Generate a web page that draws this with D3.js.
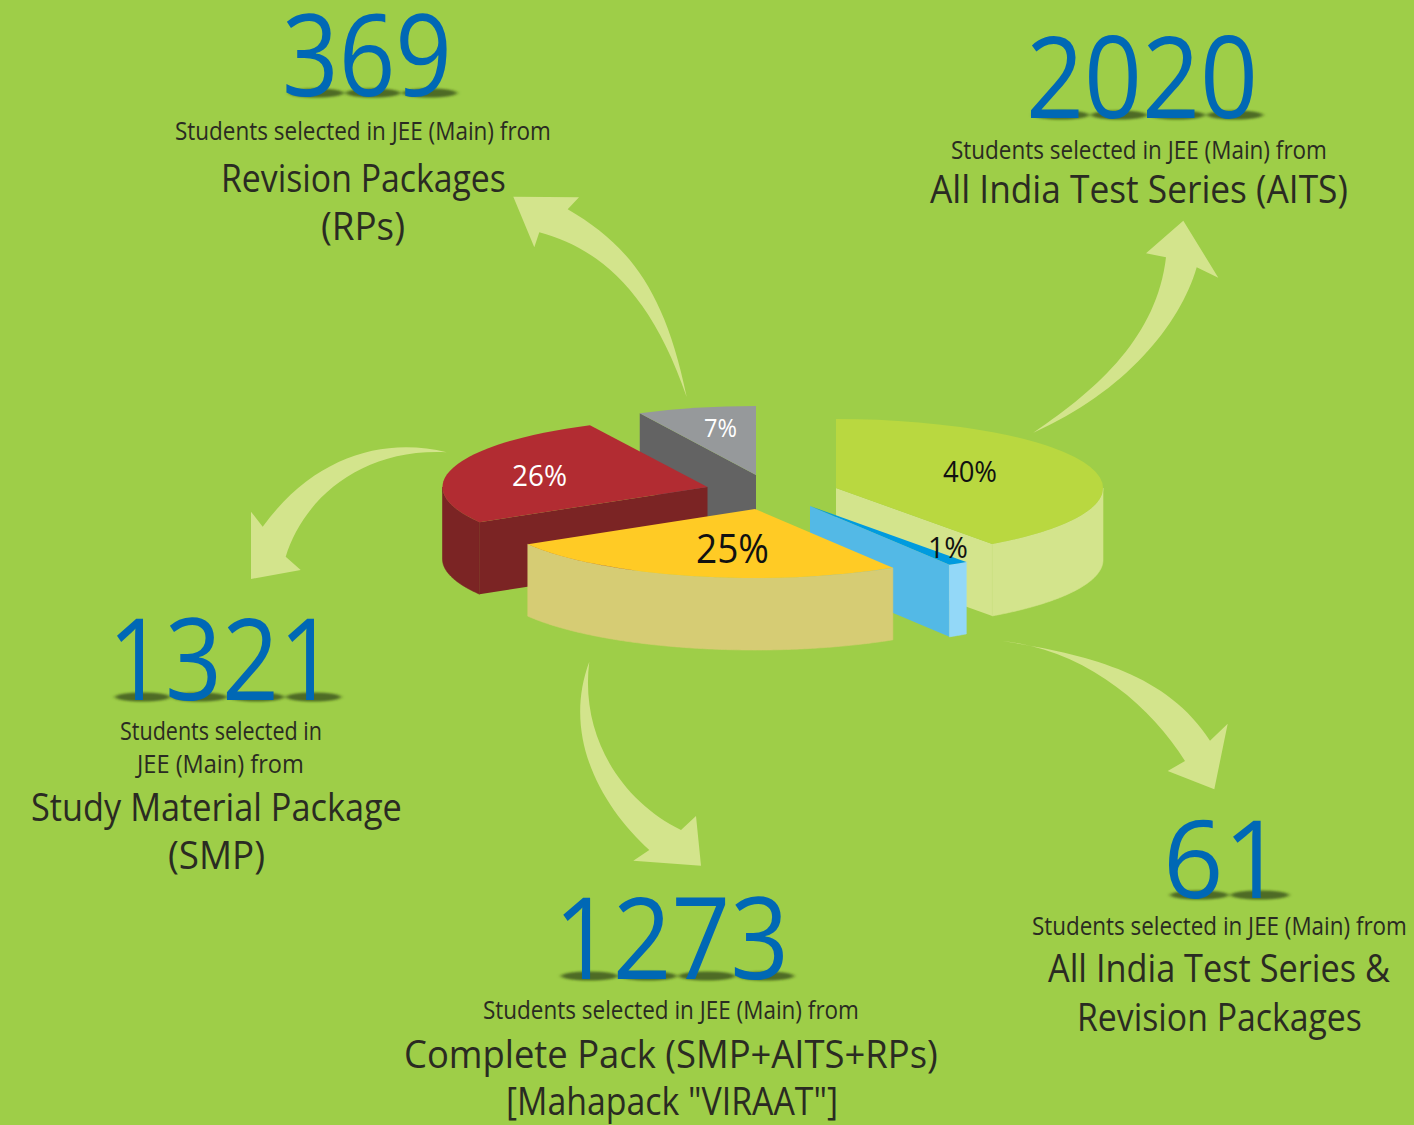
<!DOCTYPE html>
<html>
<head>
<meta charset="utf-8">
<title>JEE (Main) selections</title>
<script src="https://d3js.org/d3.v7.min.js"></script>
<style>
  html, body { margin: 0; padding: 0; background: #9ece48; }
  svg { display: block; }
  text { font-family: "Open Sans", sans-serif; }
</style>
</head>
<body>
<div id="chart"></div>
<script>
// students selected, in pie order (clockwise from 12 o'clock)
var packages = ["AITS", "AITS + RPs", "Complete Pack", "SMP", "RPs"];
var students = [2020, 61, 1273, 1321, 369];

var caption_lines = [
    ["Students selected in JEE (Main) from", "All India Test Series (AITS)"],
    ["Students selected in JEE (Main) from", "All India Test Series &", "Revision Packages"],
    ["Students selected in JEE (Main) from", "Complete Pack (SMP+AITS+RPs)", "[Mahapack \"VIRAAT\"]"],
    ["Students selected in", "JEE (Main) from", "Study Material Package", "(SMP)"],
    ["Students selected in JEE (Main) from", "Revision Packages", "(RPs)"]
];

function draw_chart() {
    const WIDTH = 1414;
    const HEIGHT = 1125;
    const RY = 69;
    const DEPTH = 72;
    const ARROW = "#d3e48c";
    const BLUE = "#0068b5";
    const INK = "#2a2b22";

    // one entry per slice, same order as students
    const SLICE_STYLE = [
        { cx: 836, cy: 488, rx: 267, top: "#b9d840", cut: "#d3e48c", side: "#d3e48c" },
        { cx: 810, cy: 506, rx: 267, top: "#009bdf", cut: "#53b9e6", side: "#93d8f8" },
        { cx: 755, cy: 509, rx: 264, top: "#ffcb25", cut: "#d6cc74", side: "#d6cc74" },
        { cx: 707.5, cy: 487, rx: 265, top: "#b22c32", cut: "#7b2424", side: "#7b2424" },
        { cx: 756, cy: 475, rx: 262, top: "#96999b", cut: "#636363", side: "#636363" }
    ];
    const PAINT_ORDER = [4, 3, 0, 1, 2];

    // x0, x1, baseline, font size of the percent labels
    const PERCENT_POS = [
        { x0: 943, x1: 997, y: 482, size: 30, fill: "#111" },
        { x0: 928, x1: 968, y: 558, size: 30, fill: "#111" },
        { x0: 696, x1: 769, y: 563, size: 40, fill: "#111" },
        { x0: 512, x1: 567, y: 486, size: 30, fill: "#fff" },
        { x0: 704, x1: 737, y: 437, size: 26, fill: "#fff" }
    ];

    // big number then caption lines
    const NUMBER_POS = [
        { x0: 1026, x1: 1258, y: 118 },
        { x0: 1163, x1: 1284, y: 898 },
        { x0: 554, x1: 789, y: 979 },
        { x0: 108, x1: 336, y: 700 },
        { x0: 282, x1: 452, y: 96 }
    ];
    const CAPTION_POS = [
        [[951, 1327, 159, 26], [930, 1348, 203, 38]],
        [[1032, 1407, 935, 26], [1048, 1390, 982, 38], [1077, 1362, 1031, 38]],
        [[483, 859, 1019, 26], [404, 938, 1068, 38], [506, 838, 1115, 38]],
        [[120, 322, 740, 26], [137, 304, 773, 26], [31, 402, 821, 38], [168, 265, 869, 38]],
        [[175, 551, 140, 26], [221, 506, 192, 38], [321, 405, 240, 38]]
    ];

    // arrows, each edge is a cubic: start, control, control, end
    const ARROWS = [
        {
            a: [[686.7, 397], [664, 285], [625, 243], [567.7, 209.3]],
            head: [[579, 197.3], [513.3, 196.7], [534.3, 247.3], [539.3, 232.3]],
            b: [[539.3, 232.3], [598, 248], [650, 290], [686.7, 397]]
        },
        {
            a: [[1033.3, 432.7], [1100, 388], [1157, 335], [1166, 257.3]],
            head: [[1146, 253.3], [1183.3, 220.7], [1218.3, 277.7], [1196.7, 267.3]],
            b: [[1196.7, 267.3], [1180, 325], [1125, 392], [1033.3, 432.7]]
        },
        {
            a: [[446.7, 452.3], [385, 437], [315, 455], [262.7, 526.7]],
            head: [[251, 511.7], [251, 579], [300.7, 570], [285.7, 556.7]],
            b: [[285.7, 556.7], [303, 500], [360, 448], [446.7, 452.3]]
        },
        {
            a: [[589.3, 661.7], [580, 735], [620, 800], [681, 830]],
            head: [[696, 816], [701, 865.7], [633.3, 860.7], [649.3, 850]],
            b: [[649.3, 850], [600, 805], [562, 735], [589.3, 661.7]]
        },
        {
            a: [[1002.7, 641], [1080, 654], [1165, 670], [1210, 740.7]],
            head: [[1227.7, 723.7], [1214.3, 789.3], [1167.7, 771], [1185, 761]],
            b: [[1185, 761], [1150, 705], [1085, 650], [1002.7, 641]]
        }
    ];

    var svg = d3.select("#chart").append("svg")
        .attr("width", WIDTH)
        .attr("height", HEIGHT);

    svg.append("rect")
        .attr("width", WIDTH)
        .attr("height", HEIGHT)
        .attr("fill", "#9ece48");

    var defs = svg.append("defs");
    defs.append("filter")
        .attr("id", "soft")
        .attr("x", "-20%").attr("y", "-100%")
        .attr("width", "140%").attr("height", "300%")
        .append("feGaussianBlur")
        .attr("stdDeviation", "2 0.9");

    // arrows
    function arrow_path(d) {
        var p = d3.path();
        p.moveTo(d.a[0][0], d.a[0][1]);
        p.bezierCurveTo(d.a[1][0], d.a[1][1], d.a[2][0], d.a[2][1], d.a[3][0], d.a[3][1]);
        d.head.forEach(function (h) { p.lineTo(h[0], h[1]); });
        p.bezierCurveTo(d.b[1][0], d.b[1][1], d.b[2][0], d.b[2][1], d.b[3][0], d.b[3][1]);
        p.closePath();
        return p.toString();
    }

    svg.selectAll("path.arrow")
        .data(ARROWS)
        .enter()
        .append("path")
        .attr("class", "arrow")
        .attr("fill", ARROW)
        .attr("d", arrow_path);

    // pie, from d3.pie angles on a flattened circle
    var total = d3.sum(students);
    var pie = d3.pie().sort(null)(students);
    var flat = d3.line();

    function point(slice, angle, drop) {
        var s = SLICE_STYLE[slice];
        return [s.cx + s.rx * Math.sin(angle), s.cy - RY * Math.cos(angle) + drop];
    }

    // cut wall at one angle, only when it faces us
    function cut_wall(i, angle) {
        var s = SLICE_STYLE[i];
        return flat([[s.cx, s.cy], point(i, angle, 0), point(i, angle, DEPTH), [s.cx, s.cy + DEPTH]]) + "Z";
    }

    // rim wall, front half of the ellipse only
    function rim_wall(i, a0, a1) {
        var from = Math.max(a0, Math.PI / 2);
        var to = Math.min(a1, Math.PI * 3 / 2);
        if (to <= from) return null;
        var angles = d3.range(from, to, 0.01).concat([to]);
        var upper = angles.map(function (a) { return point(i, a, 0); });
        var lower = angles.slice().reverse().map(function (a) { return point(i, a, DEPTH); });
        return flat(upper.concat(lower)) + "Z";
    }

    var pie_g = svg.append("g");
    PAINT_ORDER.forEach(function (i) {
        var d = pie[i];
        var s = SLICE_STYLE[i];
        var g = pie_g.append("g");
        var arc = d3.arc().innerRadius(0).outerRadius(s.rx);

        if (Math.sin(d.startAngle) < -0.001) {
            g.append("path").attr("d", cut_wall(i, d.startAngle)).attr("fill", s.cut);
        }
        if (Math.sin(d.endAngle) > 0.001) {
            g.append("path").attr("d", cut_wall(i, d.endAngle)).attr("fill", s.cut);
        }
        var rim = rim_wall(i, d.startAngle, d.endAngle);
        if (rim) {
            g.append("path").attr("d", rim).attr("fill", s.side)
                .attr("stroke", s.side).attr("stroke-width", 0.6);
        }
        g.append("path")
            .attr("d", arc(d))
            .attr("transform", "translate(" + s.cx + "," + s.cy + ") scale(1," + (RY / s.rx) + ")")
            .attr("fill", s.top);
    });

    // squeeze a text into x0..x1 by measuring it first
    function fitted_text(parent, str, x0, x1, y, size, fill) {
        var t = parent.append("text")
            .attr("font-size", size)
            .attr("fill", fill)
            .text(str);
        var k = (x1 - x0) / t.node().getComputedTextLength();
        t.attr("transform", "translate(" + x0 + "," + y + ") scale(" + k + ",1)");
        return t;
    }

    // percent labels
    var pct = d3.format(".0f");
    students.forEach(function (v, i) {
        var p = PERCENT_POS[i];
        fitted_text(svg, pct(v / total * 100) + "%", p.x0, p.x1, p.y, p.size, p.fill);
    });

    // big numbers with a flat shadow under each digit, then the captions
    students.forEach(function (v, i) {
        var n = NUMBER_POS[i];
        var digits = String(v).split("");
        var band = d3.scaleBand().domain(d3.range(digits.length)).range([n.x0, n.x1]);

        svg.append("g")
            .attr("filter", "url(#soft)")
            .selectAll("ellipse")
            .data(digits)
            .enter()
            .append("ellipse")
            .attr("cx", function (d, j) { return band(j) + band.bandwidth() / 2 + 6; })
            .attr("cy", n.y - 3)
            .attr("rx", band.bandwidth() * 0.48)
            .attr("ry", 4.5)
            .attr("fill", "#3f5a1c")
            .attr("opacity", 0.85);

        fitted_text(svg, v, n.x0, n.x1, n.y, i == 1 ? 108 : 114, BLUE);

        caption_lines[i].forEach(function (line, j) {
            var c = CAPTION_POS[i][j];
            fitted_text(svg, line, c[0], c[1], c[2], c[3], INK);
        });
    });
}

draw_chart();
</script>
</body>
</html>
